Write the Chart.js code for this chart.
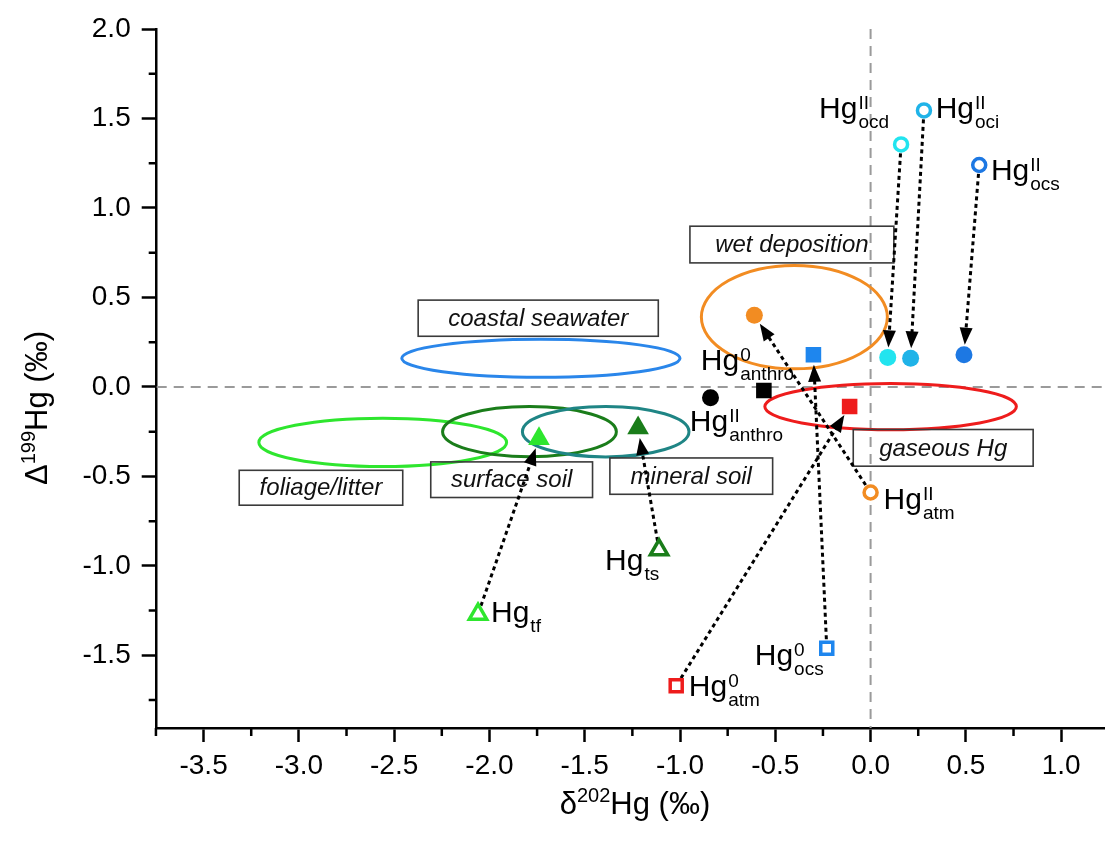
<!DOCTYPE html>
<html><head><meta charset="utf-8">
<script src="https://cdn.jsdelivr.net/npm/chart.js@4/dist/chart.umd.min.js"></script>
<style>html,body{margin:0;padding:0;background:#fff}#wrap{width:1105px;height:845px}</style>
</head><body><div id="wrap"><canvas id="c" width="1105" height="845"></canvas></div>
<script>
const F = '"Liberation Sans", Arial, Helvetica, sans-serif';

// ---- data ----
const pointIds = ['Hg_tf','Hg_ts','Hg0_atm','Hg0_ocs','surfaceSoil','mineralSoil','HgII_anthro','Hg0_anthro','gaseous','ocs0_end','wetDep','HgII_atm','ocd_end','oci_end','ocs_end','HgII_ocd','HgII_oci','HgII_ocs'];
const d202Hg = [-2.06,-1.11,-1.02,-0.23,-1.74,-1.22,-0.84,-0.56,-0.11,-0.30,-0.61,0.00,0.09,0.21,0.49,0.16,0.28,0.57];
const D199Hg = [-1.27,-0.91,-1.67,-1.46,-0.29,-0.23,-0.06,-0.02,-0.11,0.18,0.40,-0.59,0.165,0.16,0.18,1.355,1.545,1.24];

const arrowFrom = ['Hg_tf','Hg_ts','Hg0_atm','Hg0_ocs','HgII_atm','HgII_ocd','HgII_oci','HgII_ocs'];
const arrowTo   = ['surfaceSoil','mineralSoil','gaseous','ocs0_end','wetDep','ocd_end','oci_end','ocs_end'];

const regionNames = ['coastal seawater','foliage/litter','surface soil','mineral soil','wet deposition','gaseous Hg'];
const regionCx = [-1.73,-2.56,-1.79,-1.39,-0.40,0.105];
const regionCy = [0.16,-0.31,-0.25,-0.25,0.39,-0.11];
const regionRx = [0.73,0.65,0.456,0.437,0.488,0.66];
const regionRy = [0.106,0.135,0.14,0.141,0.289,0.129];
// label boxes in data coordinates
const boxX1 = [-2.374,-3.313,-2.308,-1.368,-0.948,-0.091];
const boxX2 = [-1.114,-2.455,-1.459,-0.514,0.122,0.853];
const boxY1 = [0.485,-0.466,-0.419,-0.397,0.898,-0.238];
const boxY2 = [0.283,-0.661,-0.618,-0.600,0.693,-0.443];

const xTicks = [-3.5,-3.0,-2.5,-2.0,-1.5,-1.0,-0.5,0.0,0.5,1.0];
const yTicks = [-1.5,-1.0,-0.5,0.0,0.5,1.0,1.5,2.0];
const xMinor = [-3.75,-3.25,-2.75,-2.25,-1.75,-1.25,-0.75,-0.25,0.25,0.75];
const yMinor = [-1.75,-1.25,-0.75,-0.25,0.25,0.75,1.25,1.75];

// Hg labels: anchor point, superscript, subscript
const labelAnchor = ['Hg_tf','Hg_ts','Hg0_atm','Hg0_ocs','HgII_atm','HgII_anthro','Hg0_anthro','HgII_ocd','HgII_oci','HgII_ocs'];
const labelSup = ['','','0','0','II','II','0','II','II','II'];
const labelSub = ['tf','ts','atm','ocs','atm','anthro','anthro','ocd','oci','ocs'];

// ---- styles ----
const LIME='#2ee62e', DKGREEN='#1a7d1a', TEAL='#1f8585', SEA='#2a86ea', ORANGE='#f28c22', RED='#ee1c1c',
      BLUE='#1e86ee', CYAN='#22e4ef', LBLUE='#1fb3e8', DBLUE='#1d78e3';
const marker = {
  Hg_tf:{s:'triangle',c:LIME,open:true}, Hg_ts:{s:'triangle',c:DKGREEN,open:true},
  Hg0_atm:{s:'rect',c:RED,open:true}, Hg0_ocs:{s:'rect',c:BLUE,open:true},
  surfaceSoil:{s:'triangle',c:LIME}, mineralSoil:{s:'triangle',c:DKGREEN},
  HgII_anthro:{s:'circle',c:'#000'}, Hg0_anthro:{s:'rect',c:'#000'},
  gaseous:{s:'rect',c:RED}, ocs0_end:{s:'rect',c:BLUE}, wetDep:{s:'circle',c:ORANGE},
  HgII_atm:{s:'circle',c:ORANGE,open:true}, ocd_end:{s:'circle',c:CYAN}, oci_end:{s:'circle',c:LBLUE},
  ocs_end:{s:'circle',c:DBLUE}, HgII_ocd:{s:'circle',c:CYAN,open:true}, HgII_oci:{s:'circle',c:LBLUE,open:true},
  HgII_ocs:{s:'circle',c:DBLUE,open:true}
};
const regionColors = [SEA, LIME, DKGREEN, TEAL, ORANGE, RED];
const labelOffset = [[13,8],[-54,20],[12.6,10],[-72,17],[13,17],[-20.7,33.3],[-63,-20.7],[-82,-26],[11.7,7.6],[11.7,15]];

function radiusFor(m){
  if (m.s==='circle') return m.open ? 6.5 : 8.5;
  if (m.s==='rect') return m.open ? 8.5 : 11;
  return m.open ? 10 : 12.5;
}

const datasets = pointIds.map((id,i)=>{
  const m = marker[id];
  return {
    label:id, data:[{x:d202Hg[i], y:D199Hg[i]}],
    pointStyle:m.s, pointRadius:radiusFor(m),
    backgroundColor: m.open ? '#fff' : m.c, borderColor:m.c,
    borderWidth: m.open ? 3.5 : 0, showLine:false
  };
});

function pix(chart, id){
  const i = pointIds.indexOf(id);
  return [chart.scales.x.getPixelForValue(d202Hg[i]), chart.scales.y.getPixelForValue(D199Hg[i])];
}

function drawRich(ctx, parts, x, y){
  let cx = x;
  for (const p of parts){
    ctx.font = p.size+'px '+F;
    ctx.fillText(p.t, cx, y + (p.dy||0));
    cx += ctx.measureText(p.t).width + (p.gap||0);
  }
  return cx - x;
}
function richWidth(ctx, parts){
  let w=0; for (const p of parts){ ctx.font=p.size+'px '+F; w+=ctx.measureText(p.t).width+(p.gap||0);} return w;
}

const decor = {
  id:'decor',
  beforeDatasetsDraw(chart){
    const ctx = chart.ctx, xs = chart.scales.x, ys = chart.scales.y, a = chart.chartArea;
    ctx.save();
    // zero lines
    ctx.strokeStyle = '#9a9a9a'; ctx.lineWidth = 2; ctx.setLineDash([10,7]);
    ctx.beginPath();
    ctx.moveTo(a.left, ys.getPixelForValue(0)); ctx.lineTo(a.right, ys.getPixelForValue(0));
    ctx.moveTo(xs.getPixelForValue(0), a.top); ctx.lineTo(xs.getPixelForValue(0), a.bottom);
    ctx.stroke();
    ctx.setLineDash([]);
    // ellipses
    regionNames.forEach((n,i)=>{
      const cx = xs.getPixelForValue(regionCx[i]), cy = ys.getPixelForValue(regionCy[i]);
      const rx = Math.abs(xs.getPixelForValue(regionCx[i]+regionRx[i]) - cx);
      const ry = Math.abs(ys.getPixelForValue(regionCy[i]+regionRy[i]) - cy);
      ctx.strokeStyle = regionColors[i]; ctx.lineWidth = 3;
      ctx.beginPath(); ctx.ellipse(cx, cy, rx, ry, 0, 0, Math.PI*2); ctx.stroke();
    });
    // boxes
    regionNames.forEach((n,i)=>{
      const x1 = xs.getPixelForValue(boxX1[i]), x2 = xs.getPixelForValue(boxX2[i]);
      const y1 = ys.getPixelForValue(boxY1[i]), y2 = ys.getPixelForValue(boxY2[i]);
      ctx.strokeStyle = '#3a3a3a'; ctx.lineWidth = 1.6;
      ctx.strokeRect(x1, y1, x2-x1, y2-y1);
      ctx.fillStyle = '#111'; ctx.font = 'italic 24px '+F;
      ctx.textAlign = 'center'; ctx.textBaseline = 'middle';
      ctx.fillText(n, (x1+x2)/2, (y1+y2)/2 + 1);
    });
    // arrows
    arrowFrom.forEach((f,i)=>{
      const [x0,y0] = pix(chart,f), [x1,y1] = pix(chart,arrowTo[i]);
      const dx = x1-x0, dy = y1-y0, L = Math.hypot(dx,dy), ux = dx/L, uy = dy/L;
      const sx = x0+ux*9, sy = y0+uy*9, tx = x1-ux*10, ty = y1-uy*10;
      const hl = 17, hw = 6.5;
      const bx = tx-ux*hl, by = ty-uy*hl;
      ctx.strokeStyle = '#000'; ctx.lineWidth = 3; ctx.setLineDash([4,3.5]);
      ctx.beginPath(); ctx.moveTo(sx,sy); ctx.lineTo(bx+ux*2,by+uy*2); ctx.stroke();
      ctx.setLineDash([]);
      ctx.fillStyle = '#000';
      ctx.beginPath(); ctx.moveTo(tx,ty); ctx.lineTo(bx-uy*hw, by+ux*hw); ctx.lineTo(bx+uy*hw, by-ux*hw); ctx.closePath(); ctx.fill();
    });
    ctx.restore();
  },
  afterDatasetsDraw(chart){
    const ctx = chart.ctx, xs = chart.scales.x, ys = chart.scales.y, a = chart.chartArea;
    ctx.save();
    ctx.fillStyle = '#000'; ctx.textAlign='left'; ctx.textBaseline='alphabetic';
    labelAnchor.forEach((id,i)=>{
      const [px,py] = pix(chart,id);
      const x = px+labelOffset[i][0], y = py+labelOffset[i][1];
      ctx.font = '30px '+F; ctx.fillText('Hg', x, y);
      const w = ctx.measureText('Hg').width + 1;
      ctx.font = '19px '+F;
      if (labelSup[i]) ctx.fillText(labelSup[i], x+w, y-9);
      if (labelSub[i]) ctx.fillText(labelSub[i], x+w, y+10);
    });
    // minor ticks
    ctx.strokeStyle='#000'; ctx.lineWidth=2.5;
    ctx.beginPath();
    xMinor.forEach(v=>{ const p = xs.getPixelForValue(v); if (p>=a.left-1 && p<=a.right){ ctx.moveTo(p,a.bottom); ctx.lineTo(p,a.bottom+8);} });
    yMinor.forEach(v=>{ const p = ys.getPixelForValue(v); ctx.moveTo(a.left,p); ctx.lineTo(a.left-8,p); });
    ctx.stroke();
    // axis titles
    const xt = [{t:'\u03b4',size:31},{t:'202',size:20,dy:-12},{t:'Hg (\u2030)',size:31}];
    const wx = richWidth(ctx,xt);
    drawRich(ctx, xt, 635 - wx/2, 814);
    const yt = [{t:'\u0394',size:31},{t:'199',size:20,dy:-12},{t:'Hg (\u2030)',size:31}];
    const wy = richWidth(ctx,yt);
    ctx.translate(47, 408); ctx.rotate(-Math.PI/2);
    drawRich(ctx, yt, -wy/2, 0);
    ctx.restore();
  }
};

new Chart(document.getElementById('c'), {
  type:'scatter',
  data:{datasets},
  options:{
    responsive:false, animation:false, events:[],
    layout:{padding:{top:29,left:0,right:0,bottom:0}, autoPadding:false},
    plugins:{legend:{display:false}, tooltip:{enabled:false}},
    scales:{
      x:{type:'linear', min:-3.746, max:1.23,
        afterBuildTicks:s=>{ s.ticks = xTicks.map(v=>({value:v})); },
        afterFit:s=>{ s.height = 845-728; s.paddingLeft = 0; s.paddingRight = 0; },
        ticks:{font:{family:F,size:28}, color:'#000', padding:7, maxRotation:0, autoSkip:false, callback:v=>Number(v).toFixed(1)},
        grid:{drawOnChartArea:false, drawTicks:true, tickLength:14, tickWidth:2.5, tickColor:'#000'},
        border:{display:true, color:'#000', width:2.5}
      },
      y:{type:'linear', min:-1.906, max:2.0,
        afterBuildTicks:s=>{ s.ticks = yTicks.map(v=>({value:v})); },
        afterFit:s=>{ s.width = 156.7; s.paddingTop = 0; s.paddingBottom = 0; },
        ticks:{font:{family:F,size:28}, color:'#000', padding:11, autoSkip:false, callback:v=>Number(v).toFixed(1)},
        grid:{drawOnChartArea:false, drawTicks:true, tickLength:15, tickWidth:2.5, tickColor:'#000'},
        border:{display:true, color:'#000', width:2.5}
      }
    }
  },
  plugins:[decor]
});
</script></body></html>
